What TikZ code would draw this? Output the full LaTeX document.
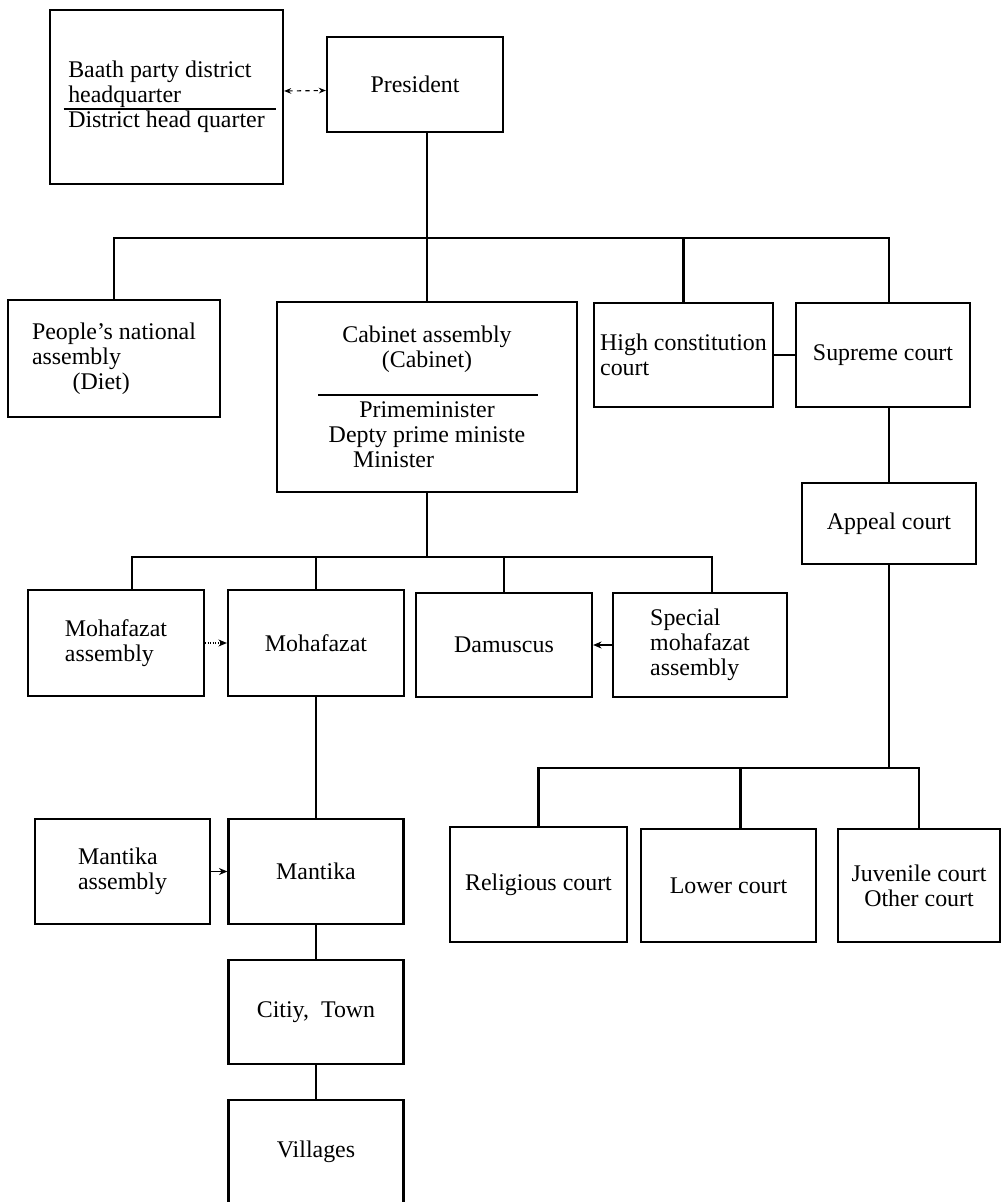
\documentclass[tikz,border=0pt]{standalone}
\usepackage{fontspec}
\setmainfont{Liberation Serif}
\usetikzlibrary{arrows.meta,positioning,calc}

\begin{document}
\begin{tikzpicture}[x=0.025cm,y=-0.025cm,
  box/.style={draw,line width=1.6pt,align=left,inner sep=2pt,
              font=\fontsize{17}{17.8}\selectfont},
  wh/.style 2 args={minimum width=#1*0.025cm,minimum height=#2*0.025cm},
  line/.style={line width=1.5pt},
  arr/.style={-{Stealth[length=6pt,width=5pt]},line width=0.8pt},
  dasharr/.style={{Stealth[length=5pt,width=4pt]}-{Stealth[length=5pt,width=4pt]},
                  dashed,line width=0.8pt}]
\useasboundingbox (0,0) rectangle (1001,1202);
\clip (0,0) rectangle (1001,1202);
% top level
\node[box,wh={233}{174}] (baath) at (166.5,97)
  {Baath party district\\headquarter\\District head quarter};
\node[box,wh={176}{95},align=center] (pres) at (415,84.5) {President};
\node[box,wh={212}{117}] (pna) at (114,358.5)
  {People's national\\assembly\\\hspace*{1.7em}(Diet)};
\node[box,wh={300}{190},align=center] (cab) at (427,397)
  {Cabinet assembly\\(Cabinet)\\[17.8pt]Primeminister\\Depty prime ministe\\Minister\hspace*{2.8em}};
\node[box,wh={179}{104}] (hcc) at (683.5,355) {High constitution\\court};
\node[box,wh={174}{104},align=center] (sup) at (883,355) {Supreme court};
\node[box,wh={174}{81},align=center] (app) at (889,523.5) {Appeal court};
% local administration
\node[box,wh={176}{106}] (mohasm) at (116,643) {Mohafazat\\assembly};
\node[box,wh={176}{106},align=center] (moh) at (316,643) {Mohafazat};
\node[box,wh={176}{104},align=center] (dam) at (504,645) {Damuscus};
\node[box,wh={174}{104}] (spec) at (700,645) {Special\\mohafazat\\assembly};
\node[box,wh={175}{105}] (manasm) at (122.5,871.5) {Mantika\\assembly};
\node[box,wh={175}{105},align=center] (man) at (316,871.5) {Mantika};
\node[box,wh={175}{104},align=center] (city) at (316,1012) {Citiy,\ \ Town};
\node[box,wh={175}{104},align=center] (vil) at (316,1152) {Villages};
% courts
\node[box,wh={177}{115},align=center] (rel) at (538.5,884.5) {Religious court};
\node[box,wh={175}{113},align=center] (low) at (728.5,885.5) {Lower court};
\node[box,wh={162}{113},align=center] (juv) at (919,885.5) {Juvenile court\\Other court};
% rules inside boxes
\draw[line width=1pt] ($(baath.center)+(-103,12)$) -- ($(baath.center)+(109,12)$);
\draw[line width=1pt] ($(cab.center)+(-109,-2)$) -- ($(cab.center)+(111,-2)$);
% connectors
\coordinate (bus1) at (0,238);
\coordinate (bus2) at (0,557);
\coordinate (bus3) at (0,768);
\draw[dasharr] ($(baath.east)+(0,-6)$) -- ($(pres.west)+(0,6)$);
\draw[line] (pres.south -| cab.north) -- (cab.north);
\draw[line] (pna.north) |- (app.north |- bus1) -- (app.north |- sup.north);
\draw[line] (hcc.north) -- (hcc.north |- bus1);
\draw[line] (hcc.east) -- (sup.west);
\draw[line] (app.north |- sup.south) -- (app.north);
\draw[line] (cab.south) -- (cab.south |- bus2);
\draw[line] ($(mohasm.north)+(16,0)$) |- ($(spec.north |- bus2)+(12,0)$)
  -- ($(spec.north)+(12,0)$);
\draw[line] (moh.north) -- (moh.north |- bus2);
\draw[line] (dam.north) -- (dam.north |- bus2);
\draw[arr,densely dotted] (mohasm.east) -- (moh.west);
\draw[arr] (spec.west) -- (dam.east);
\draw[line] (moh.south) -- (man.north);
\draw[arr] (manasm.east) -- (man.west);
\draw[line] (man.south) -- (city.north);
\draw[line] (city.south) -- (vil.north);
\draw[line] (app.south) -- (app.south |- bus3);
\draw[line] (rel.north) |- (juv.north |- bus3) -- (juv.north);
\draw[line] ($(low.north)+(12,0)$) -- ($(low.north |- bus3)+(12,0)$);
\end{tikzpicture}
\end{document}
